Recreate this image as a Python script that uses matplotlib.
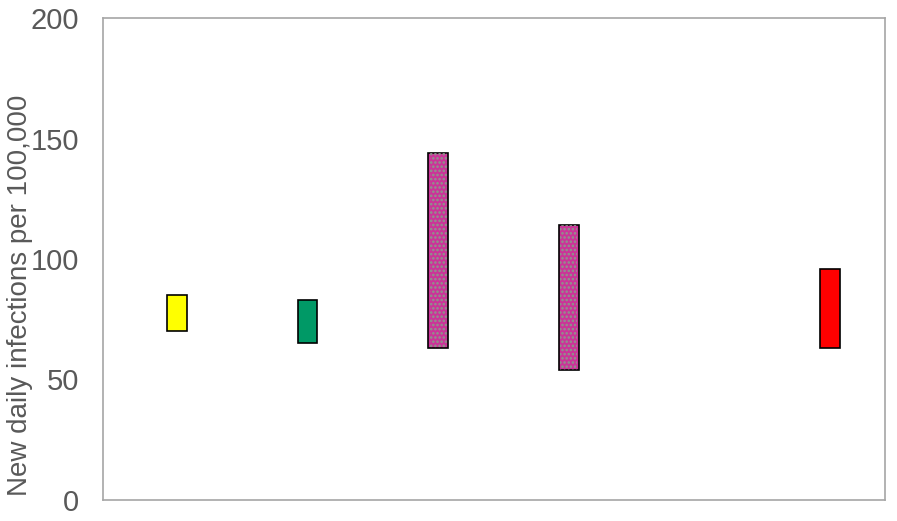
import numpy as np
import matplotlib
matplotlib.use("Agg")
import matplotlib.pyplot as plt

# floating bars: low / high value for each group
positions = [0, 1, 2, 3, 5]
lows = [70, 65, 63, 54, 63]
highs = [85, 83, 144, 114, 96]
colors = ['#ffff00', '#009966', '#cc3399', '#cc3399', '#ff0000']
dotted = [False, False, True, True, False]
y_ticks = [0, 50, 100, 150, 200]
y_label = 'New daily infections per 100,000'

plt.rcParams['font.family'] = ['Liberation Sans', 'DejaVu Sans']
plt.rcParams['hatch.linewidth'] = 1.2

fig = plt.figure(figsize=(8.97, 5.21), dpi=100)
ax = fig.add_axes([103 / 897, 21 / 521, 782 / 897, 482 / 521])

heights = np.array(highs) - np.array(lows)
ax.bar(positions, heights, bottom=lows, width=0.15, color=colors,
       edgecolor='black', linewidth=1.2, zorder=3)

# speckled texture on the magenta bars
for p, lo, h, d in zip(positions, lows, heights, dotted):
  if d:
    ax.bar(p, h, bottom=lo, width=0.13, color='none', edgecolor='#8a9a8a',
           hatch='....', linewidth=0, zorder=4)

ax.set_xlim(-0.567, 5.42)
ax.set_ylim(0, 200)
ax.set_yticks(y_ticks)
ax.set_xticks([])
ax.tick_params(axis='y', length=0, pad=17, labelsize=21, labelcolor='#595959')
for s in ax.spines.values():
  s.set_color('#a6a6a6')
  s.set_linewidth(1.2)

ax.set_ylabel(y_label, fontsize=20, color='#595959')
ax.yaxis.set_label_coords(-0.09, 0.425)

fig.savefig('out.png', dpi=100)
